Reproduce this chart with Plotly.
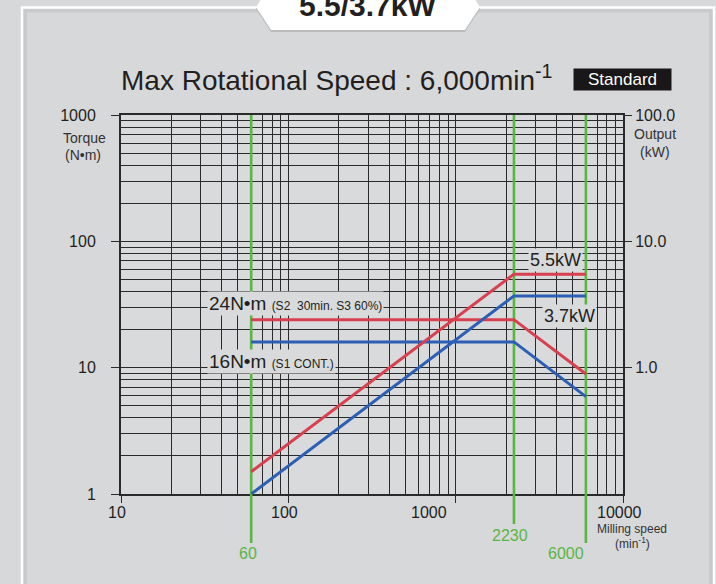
import math
import plotly.graph_objects as go

# ---------------- data ----------------
speed = [60, 2230, 6000]                 # min^-1
torque_s2 = [24, 24, 8.9]                # N·m  (S2 30min, S3 60%)
torque_s1 = [16, 16, 5.9]                # N·m  (S1 cont.)
output_s2 = [0.15, 5.5, 5.5]             # kW
output_s1 = [0.1, 3.7, 3.7]              # kW

x_ticks = [10, 100, 1000, 10000]
x_ticklabels = ["10", "100", "1000", "10000"]
torque_ticks = [1, 10, 100, 1000]
torque_ticklabels = ["1", "10", "100", "1000"]
output_ticks = [1, 10, 100]
output_ticklabels = ["1.0", "10.0", "100.0"]
speed_marks = [60, 2230, 6000]
speed_mark_labels = ["60", "2230", "6000"]

# ---------------- style ----------------
RED = "#d8404f"
BLUE = "#2c5fb3"
GREEN = "#5ab545"
INK = "#231f20"
BG = "#d9dadc"
OUTER = "#d7d8da"
GRID = "#2a2a2a"
FONT = "Liberation Sans, Arial, sans-serif"

W, H = 716, 584
L, R, T, B = 121, 93, 115, 90
PW, PH = W - L - R, H - T - B


def px(x):
    return (x - L) / PW


def py(y):
    return (H - B - y) / PH


def minor_vals(lo_exp, hi_exp):
    return [m * 10 ** e for e in range(lo_exp, hi_exp) for m in range(2, 10)]


fig = go.Figure()

# green reference lines inside the plot (under the curves)
for s in speed_marks:
    fig.add_trace(go.Scatter(x=[s, s], y=[torque_ticks[0], torque_ticks[-1]], mode="lines",
                             line=dict(color=GREEN, width=2.6), hoverinfo="skip", showlegend=False))

# torque curves
fig.add_trace(go.Scatter(x=speed, y=torque_s2, mode="lines", line=dict(color=RED, width=3),
                         showlegend=False, name="S2 torque"))
fig.add_trace(go.Scatter(x=speed, y=torque_s1, mode="lines", line=dict(color=BLUE, width=3),
                         showlegend=False, name="S1 torque"))
# output curves
fig.add_trace(go.Scatter(x=speed, y=output_s2, mode="lines", line=dict(color=RED, width=3),
                         showlegend=False, name="S2 output", yaxis="y2"))
fig.add_trace(go.Scatter(x=speed, y=output_s1, mode="lines", line=dict(color=BLUE, width=3),
                         showlegend=False, name="S1 output", yaxis="y2"))

shapes = []
# outer white frame with inner shadow
shapes.append(dict(type="rect", xref="paper", yref="paper", x0=px(25), x1=px(711), y0=py(640), y1=py(10.5),
                   line=dict(color="#c9cacc", width=4), fillcolor="rgba(0,0,0,0)", layer="below"))
shapes.append(dict(type="rect", xref="paper", yref="paper", x0=px(22), x1=px(714), y0=py(640), y1=py(7.5),
                   line=dict(color="white", width=2.5), fillcolor="rgba(0,0,0,0)", layer="below"))
# hexagon badge (shadow + white)
def hexpath(dy):
    pts = [(256, 7), (271, 30), (465, 30), (480, 7), (465, -16), (271, -16)]
    return "M " + " L ".join(f"{px(a)},{py(b + dy)}" for a, b in pts) + " Z"
shapes.append(dict(type="path", xref="paper", yref="paper", path=hexpath(2), fillcolor="#b9babc",
                   line=dict(width=0), layer="below"))
shapes.append(dict(type="path", xref="paper", yref="paper", path=hexpath(0), fillcolor="white",
                   line=dict(width=0), layer="below"))
# green lines extending below the axis
ends = [543, 524, 543]
for s, e in zip(speed_marks, ends):
    shapes.append(dict(type="line", xref="x", yref="paper", x0=s, x1=s, y0=0, y1=py(e),
                       line=dict(color=GREEN, width=2.6), layer="above"))

ann = []
# badge text
ann.append(dict(text="<b>5.5/3.7kW</b>", xref="paper", yref="paper", x=px(367), y=py(5.5), showarrow=False,
                font=dict(family=FONT, size=30, color=INK), xanchor="center", yanchor="middle"))
# title
ann.append(dict(text="Max Rotational Speed : 6,000min<sup>-1</sup>", xref="paper", yref="paper",
                x=px(119), y=py(78), xanchor="left", yanchor="middle", showarrow=False,
                font=dict(family=FONT, size=28, color=INK)))
ann.append(dict(text="Standard", xref="paper", yref="paper", x=px(622.5), y=py(79.5), xanchor="center",
                yanchor="middle", showarrow=False, bgcolor="#1a1718", width=95, height=19, borderpad=1,
                font=dict(family=FONT, size=17, color="white")))
# axis titles
for t, xx, yy, sz in [("Torque", 84, 138, 14), ("(N•m)", 83, 155, 14),
                      ("Output", 655, 134, 14), ("(kW)", 655, 152, 14),
                      ("Milling speed", 632, 529, 12), ("(min<sup>-1</sup>)", 632, 543, 12)]:
    ann.append(dict(text=t, xref="paper", yref="paper", x=px(xx), y=py(yy), showarrow=False,
                    xanchor="center", yanchor="middle", font=dict(family=FONT, size=sz, color="#333")))
# x tick labels
for v, lab, sh in zip(x_ticks, x_ticklabels, [-4, -4, -27, -4]):
    ann.append(dict(text=lab, xref="x", yref="paper", x=math.log10(v), y=py(512), xshift=sh, showarrow=False,
                    xanchor="center", yanchor="middle", font=dict(family=FONT, size=16, color=INK)))
# speed marks
for v, lab, sh, yy in zip(speed_marks, speed_mark_labels, [-3, -4, -20], [553, 535, 553]):
    ann.append(dict(text=lab, xref="x", yref="paper", x=math.log10(v), y=py(yy), xshift=sh, showarrow=False,
                    xanchor="center", yanchor="middle", font=dict(family=FONT, size=16, color=GREEN)))
# curve labels
lab_font = dict(family=FONT, size=18, color=INK)
ann.append(dict(text="5.5kW", xref="paper", yref="paper", x=px(555), y=py(259.5), showarrow=False,
                xanchor="center", yanchor="middle", bgcolor=BG, borderpad=1, font=lab_font))
ann.append(dict(text="3.7kW", xref="paper", yref="paper", x=px(569), y=py(315.5), showarrow=False,
                xanchor="center", yanchor="middle", bgcolor=BG, borderpad=1, font=lab_font))
ann.append(dict(text="24N•m <span style='font-size:12px'>(S2  30min. S3 60%)</span>", xref="paper",
                yref="paper", x=px(207), y=py(303), showarrow=False, xanchor="left", yanchor="middle",
                bgcolor=BG, borderpad=1, font=dict(family=FONT, size=19, color=INK)))
ann.append(dict(text="16N•m <span style='font-size:12px'>(S1 CONT.)</span>", xref="paper",
                yref="paper", x=px(207), y=py(361), showarrow=False, xanchor="left", yanchor="middle",
                bgcolor=BG, borderpad=1, font=dict(family=FONT, size=19, color=INK)))

fig.update_layout(
    width=W, height=H, margin=dict(l=L, r=R, t=T, b=B, pad=0),
    paper_bgcolor=OUTER, plot_bgcolor=BG,
    shapes=shapes, annotations=ann, showlegend=False,
    xaxis=dict(type="log", range=[1, 4], tickvals=x_ticks, ticktext=x_ticklabels, showticklabels=False,
               ticks="outside", ticklen=7, tickcolor=GRID, tickwidth=1,
               showgrid=True, gridcolor=GRID, gridwidth=1,
               minor=dict(tickmode="array", tickvals=minor_vals(1, 4), showgrid=True, gridcolor=GRID,
                          gridwidth=1, ticks=""),
               showline=True, linecolor=GRID, linewidth=1.5, mirror=True, zeroline=False),
    yaxis=dict(type="log", range=[0, 3], tickvals=torque_ticks, ticktext=torque_ticklabels,
               ticks="outside", ticklen=8, tickcolor=GRID, ticklabelstandoff=12,
               tickfont=dict(family=FONT, size=16, color=INK),
               showgrid=True, gridcolor=GRID, gridwidth=1,
               minor=dict(tickmode="array", tickvals=minor_vals(0, 3), showgrid=True, gridcolor=GRID,
                          gridwidth=1, ticks=""),
               showline=True, linecolor=GRID, linewidth=2, mirror=True, zeroline=False),
    yaxis2=dict(type="log", range=[-1, 2], overlaying="y", side="right", tickvals=output_ticks,
                ticktext=output_ticklabels, ticks="outside", ticklen=8, tickcolor=GRID,
                tickfont=dict(family=FONT, size=16, color=INK), showgrid=False, zeroline=False,
                showline=False),
)

fig.write_html("out.html", config={"displayModeBar": False},
               post_script="document.body.style.margin='0px';")
